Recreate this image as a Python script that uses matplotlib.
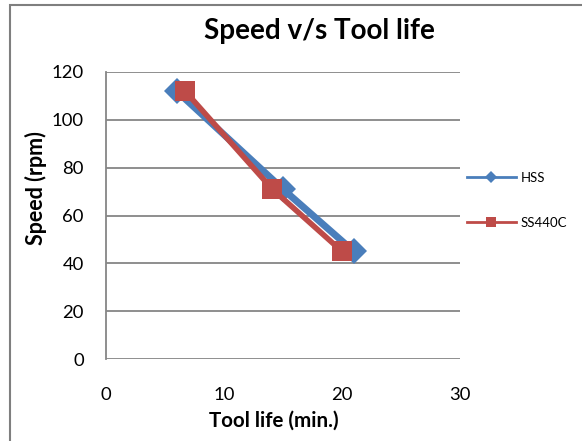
import matplotlib
matplotlib.use("Agg")
import matplotlib.pyplot as plt
from matplotlib.lines import Line2D
from matplotlib.patches import Rectangle

# data
hss_life = [6, 15, 21]
hss_speed = [112, 71, 45]
ss_life = [6.7, 14.1, 20]
ss_speed = [112, 71, 45]
series_names = ["HSS", "SS440C"]

blue = "#4A7EBB"
red = "#BE4B48"
grid_col = "#868686"

plt.rcParams["font.family"] = ["Lato", "DejaVu Sans"]

fig = plt.figure(figsize=(5.82, 4.41), dpi=100)
ax = fig.add_axes([106 / 582, 1 - 359 / 441, 354 / 582, 287 / 441])

# chart border (cropped Word chart)
fig.patches.append(Rectangle((10 / 582, -0.1), 1.2, (441 - 5) / 441 + 0.1,
                             transform=fig.transFigure, fill=False,
                             edgecolor="#7f7f7f", lw=1.5))

ax.plot(hss_life, hss_speed, color=blue, lw=5, marker="D", ms=13,
        markeredgewidth=0, zorder=3)
ax.plot(ss_life, ss_speed, color=red, lw=4, marker="s", ms=15,
        markeredgewidth=0, zorder=4)

ax.set_xlim(0, 30)
ax.set_ylim(0, 120)
ax.set_xticks([0, 10, 20, 30])
ax.set_yticks(range(0, 121, 20))
ax.yaxis.grid(True, color=grid_col, lw=1.3)
ax.set_axisbelow(True)
for s in ["top", "right", "bottom"]:
    ax.spines[s].set_visible(False)
ax.spines["left"].set_color(grid_col)
ax.spines["left"].set_linewidth(1.3)
ax.tick_params(axis="x", length=0, pad=20, labelsize=13.3)
ax.tick_params(axis="y", length=0, pad=16, labelsize=13.3)

ax.set_xlabel("Tool life (min.)", fontsize=14.8, fontweight="bold")
ax.xaxis.set_label_coords(0.475, -0.18)
ax.set_ylabel("Speed (rpm)", fontsize=15.5, fontweight="bold")
ax.yaxis.set_label_coords(-0.167, 0.596)
fig.text(319 / 582, 1 - 31 / 441, "Speed v/s Tool life", fontsize=20,
         fontweight="bold", ha="center", va="center")

handles = [Line2D([], [], color=blue, lw=2, marker="D", ms=6, markeredgewidth=0),
           Line2D([], [], color=red, lw=2, marker="s", ms=7, markeredgewidth=0)]
fig.legend(handles, series_names, loc="upper left",
           bbox_to_anchor=(455 / 582, 1 - 160 / 441), frameon=False,
           fontsize=9.5, handlelength=3.7, labelspacing=2.5, handletextpad=0.4)

fig.savefig("out.png", dpi=100)
